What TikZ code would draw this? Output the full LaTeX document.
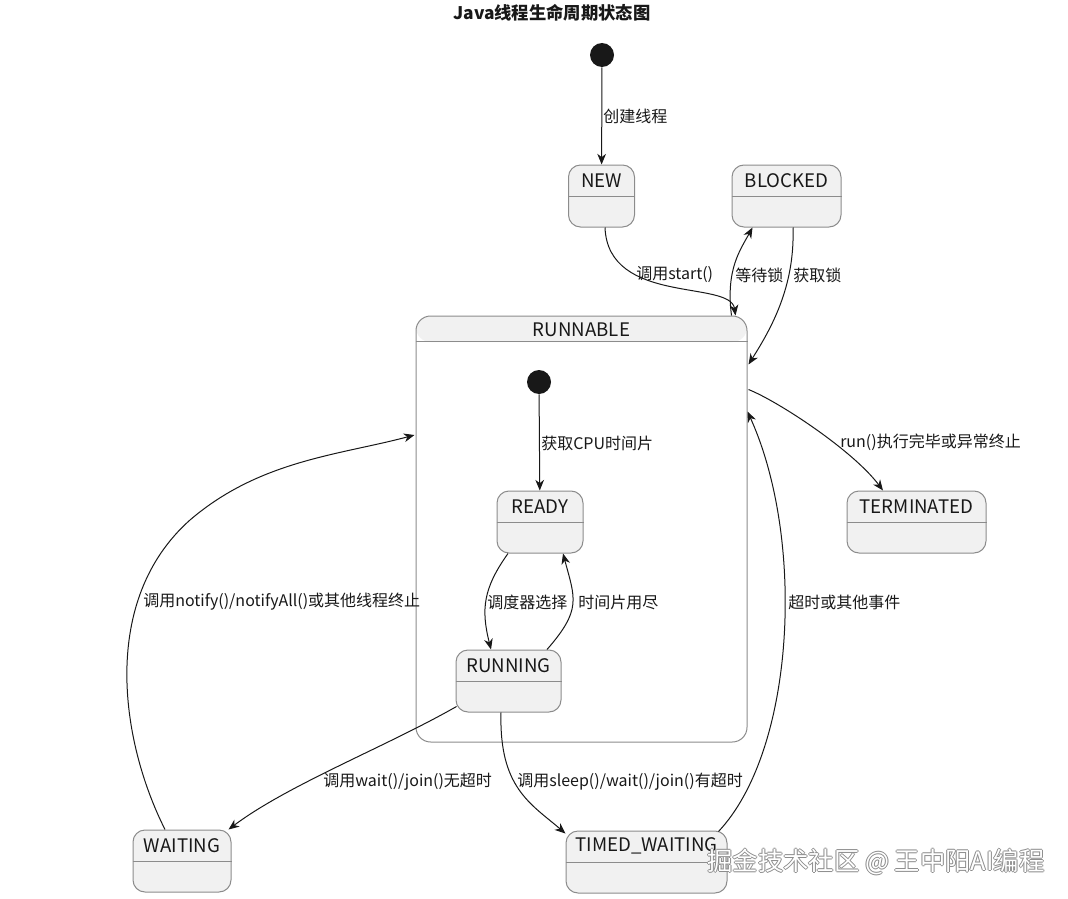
\documentclass[tikz,border=0pt]{standalone}
\usepackage{fontspec}
\setmainfont{Noto Sans CJK SC}
\usetikzlibrary{arrows.meta,calc}

\definecolor{stfill}{HTML}{F1F1F1}
\definecolor{stline}{HTML}{8C8C8C}
\definecolor{ink}{HTML}{181818}

\tikzset{
	state/.style={draw=stline, fill=stfill, line width=0.75pt, rounded corners=9pt, inner sep=0pt},
	stname/.style={font=\fontsize{14}{16}\selectfont, text=ink, inner sep=0pt},
	hdr/.style={draw=stline, line width=0.75pt},
	initial/.style={circle, fill=ink, minimum size=18pt, inner sep=0pt},
	trans/.style={draw=ink, line width=0.75pt, -{Stealth[length=8pt,width=6.5pt,inset=2.5pt]}},
	lbl/.style={anchor=west, font=\fontsize{12}{14}\selectfont, text=ink, inner sep=0pt},
	wmark/.style={font=\fontsize{19}{21}\selectfont, inner sep=0pt},
}

\begin{document}
\begin{tikzpicture}[x=0.75pt,y=-0.75pt]
	\useasboundingbox (0,0) rectangle (1068,899);
	
	% title
	\node[font=\bfseries\fontsize{13}{15}\selectfont, text=ink] (title) at (552,13) {Java线程生命周期状态图};
	
	% composite state: white body, grey header strip
	\node[state, fill=white, rounded corners=11pt, minimum width=248.25pt, minimum height=319.5pt,
		path picture={\fill[stfill] (path picture bounding box.north west) rectangle ([yshift=-19.5pt]path picture bounding box.north east);}]
		(runnable) at (581.5,529) {};
	\draw[hdr] ($(runnable.north west)+(0,26)$) -- ($(runnable.north east)+(0,26)$);
	\node[stname] (runnable-t) at ($(runnable.north)+(0,14)$) {RUNNABLE};
	
	% initial pseudo states
	\node[initial] (init) at (602,55) {};
	\node[initial] (inner) at (539,382) {};
	
	% simple states: box, header line at the middle, name in the upper half
	\node[state, minimum width=49.5pt, minimum height=46.5pt] (new) at (601.5,196) {};
	\draw[hdr] (new.west) -- (new.east);
	\node[stname] (new-t) at ($(new.north)!0.5!(new.center)$) {NEW};
	
	\node[state, minimum width=81.75pt, minimum height=46.5pt] (blocked) at (786.5,196) {};
	\draw[hdr] (blocked.west) -- (blocked.east);
	\node[stname] (blocked-t) at ($(blocked.north)!0.5!(blocked.center)$) {BLOCKED};
	
	\node[state, minimum width=64.5pt, minimum height=46.5pt] (ready) at (540,522) {};
	\draw[hdr] (ready.west) -- (ready.east);
	\node[stname] (ready-t) at ($(ready.north)!0.5!(ready.center)$) {READY};
	
	\node[state, minimum width=78.75pt, minimum height=46.5pt] (running) at (508.5,681) {};
	\draw[hdr] (running.west) -- (running.east);
	\node[stname] (running-t) at ($(running.north)!0.5!(running.center)$) {RUNNING};
	
	\node[state, minimum width=104.25pt, minimum height=46.5pt] (terminated) at (916.5,522) {};
	\draw[hdr] (terminated.west) -- (terminated.east);
	\node[stname] (terminated-t) at ($(terminated.north)!0.5!(terminated.center)$) {TERMINATED};
	
	\node[state, minimum width=73.5pt, minimum height=46.5pt] (waiting) at (182,861) {};
	\draw[hdr] (waiting.west) -- (waiting.east);
	\node[stname] (waiting-t) at ($(waiting.north)!0.5!(waiting.center)$) {WAITING};
	
	\node[state, minimum width=120.75pt, minimum height=46.5pt] (timed) at (646.5,862) {};
	\draw[hdr] (timed.west) -- (timed.east);
	\node[stname] (timed-t) at ($(timed.north)!0.5!(timed.center)$) {TIMED\_WAITING};
	
	% transitions
	\draw[trans] (init) -- (new);
	\draw[trans] ($(new.south)+(3.5,0)$) .. controls +(3,78) and +(-5,-36) .. ($(runnable.north east)+(-12,0)$);
	\draw[trans] ($(runnable.north east)+(-16,0)$) .. controls +(-6,-46) and +(-12,22) .. ($(blocked.south)+(-34,0)$);
	\draw[trans] ($(blocked.south)+(6.5,0)$) .. controls +(2,60) and +(22,-35) .. ($(runnable.north east)+(1,49)$);
	\draw[trans] ($(runnable.north east)+(1,74)$) .. controls +(30,12) and +(-30,-40) .. ($(terminated.north)+(-33.5,0)$);
	
	\draw[trans] (inner) -- (ready);
	\draw[trans] ($(ready.south)+(-32,0)$) .. controls +(-25,35) and +(-10,-40) .. ($(running.north)+(-17.5,0)$);
	\draw[trans] ($(running.north)+(38.5,0)$) .. controls +(35,-40) and +(12,45) .. ($(ready.south)+(23,0)$);
	
	\draw[trans] ($(running.south west)+(1,-6)$) .. controls +(-70,40) and +(60,-45) .. ($(waiting.north east)+(-3,0)$);
	\draw[trans] ($(running.south)+(-7.5,0)$) .. controls +(-2,75) and +(-35,-30) .. ($(timed.north west)+(0,3)$);
	
	\draw[trans] ($(waiting.north)+(-17,0)$) .. controls (120,740) and (100,600) .. (190,520)
		.. controls (260,460) and (340,455) .. ($(runnable.west)+(-1,-94)$);
	\draw[trans] ($(timed.north east)+(-9,1)$) .. controls +(77,-82) and +(58,128) .. ($(runnable.north east)+(0,96)$);
	
	% transition labels
	\node[lbl] (l-create) at (603,116) {创建线程};
	\node[lbl] (l-start) at (636,275) {调用start()};
	\node[lbl] (l-lockwait) at (735,275) {等待锁};
	\node[lbl] (l-lockget) at (793,275) {获取锁};
	\node[lbl] (l-end) at (840,442) {run()执行完毕或异常终止};
	\node[lbl] (l-cpu) at (541,443) {获取CPU时间片};
	\node[lbl] (l-sched) at (487,602) {调度器选择};
	\node[lbl] (l-slice) at (578,602) {时间片用尽};
	\node[lbl] (l-notify) at (143,602) {调用notify()/notifyAll()或其他线程终止};
	\node[lbl] (l-timeout) at (788,602) {超时或其他事件};
	\node[lbl] (l-wait) at (323,782) {调用wait()/join()无超时};
	\node[lbl] (l-sleep) at (517,782) {调用sleep()/wait()/join()有超时};
	
	% watermark
	\foreach \dx/\dy [count=\i] in {-1/0,1/0,0/-1,0/1}
		\node[wmark, text=gray!90] (wm-\i) at (876+\dx,862+\dy) {掘金技术社区 @ 王中阳AI编程};
	\node[wmark, text=white] (wm) at (876,862) {掘金技术社区 @ 王中阳AI编程};
\end{tikzpicture}
\end{document}
